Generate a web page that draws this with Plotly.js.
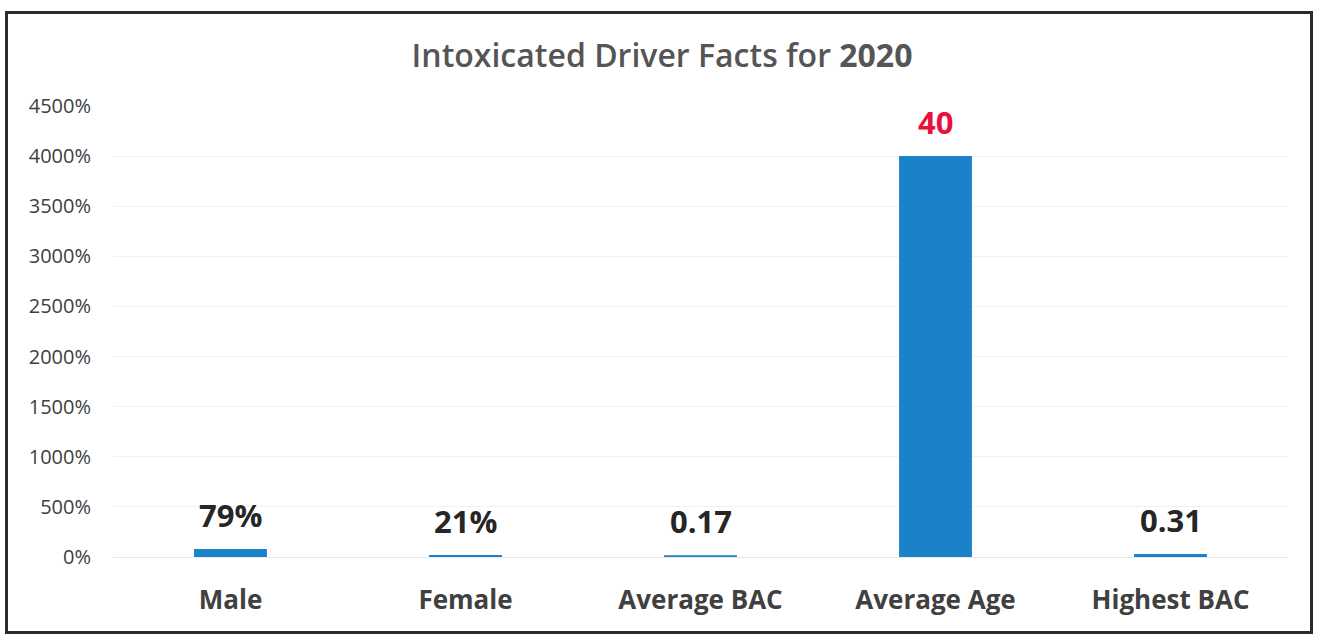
<!DOCTYPE html>
<html>
<head>
<meta charset="utf-8">
<script src="https://cdn.plot.ly/plotly-3.0.1.min.js"></script>
<style>
  html, body { margin: 0; padding: 0; background: #ffffff; }
  #wrap { position: relative; width: 1324px; height: 639px; }
  #chart { width: 1324px; height: 639px; }
  #frame { position: absolute; left: 5px; top: 11px; width: 1302px; height: 617px;
           border: 3px solid #2b2b2b; pointer-events: none; }
</style>
</head>
<body>
<div id="wrap">
  <div id="chart"></div>
  <div id="frame"></div>
</div>
<script>
// ---- data ----
const categories = ["Male", "Female", "Average BAC", "Average Age", "Highest BAC"];
const values = [0.79, 0.21, 0.17, 40, 0.31];
const valueLabels = ["79%", "21%", "0.17", "40", "0.31"];
const labelColors = ["#262626", "#262626", "#262626", "#e8103c", "#262626"];
const yTickValues = [0, 5, 10, 15, 20, 25, 30, 35, 40, 45];

const trace = {
  type: "bar",
  x: categories,
  y: values,
  marker: { color: "#1a82c8" },
  hoverinfo: "x+y"
};

const annotations = categories.map((c, i) => ({
  x: c,
  y: values[i],
  xref: "x",
  yref: "y",
  text: "<b>" + valueLabels[i] + "</b>",
  showarrow: false,
  yanchor: "bottom",
  yshift: 11,
  font: { family: "Open Sans, sans-serif", size: 31, color: labelColors[i] }
}));

const layout = {
  width: 1324,
  height: 639,
  paper_bgcolor: "#ffffff",
  plot_bgcolor: "#ffffff",
  margin: { l: 113, r: 36, t: 106, b: 82 },
  showlegend: false,
  bargap: 0.69,
  title: {
    text: "Intoxicated Driver Facts for <b>2020</b>",
    x: 0.5,
    xanchor: "center",
    y: 0.912,
    yanchor: "middle",
    font: { family: "Open Sans, sans-serif", size: 32, color: "#555555", weight: 600 }
  },
  xaxis: {
    type: "category",
    showgrid: false,
    showline: false,
    zeroline: false,
    ticks: "",
    ticklabelstandoff: 25,
    tickfont: { family: "Open Sans, sans-serif", size: 26, color: "#404040", weight: 700 }
  },
  yaxis: {
    range: [0, 45],
    tickvals: yTickValues,
    tickformat: ".0%",
    showgrid: true,
    gridcolor: "#f2f2f2",
    gridwidth: 1,
    zeroline: true,
    zerolinecolor: "#e8e8e8",
    showline: false,
    ticks: "",
    ticklabelstandoff: 21,
    tickfont: { family: "Open Sans, sans-serif", size: 20, color: "#404040" }
  },
  annotations: annotations
};

Plotly.newPlot("chart", [trace], layout, { displayModeBar: false, staticPlot: true });
</script>
</body>
</html>
